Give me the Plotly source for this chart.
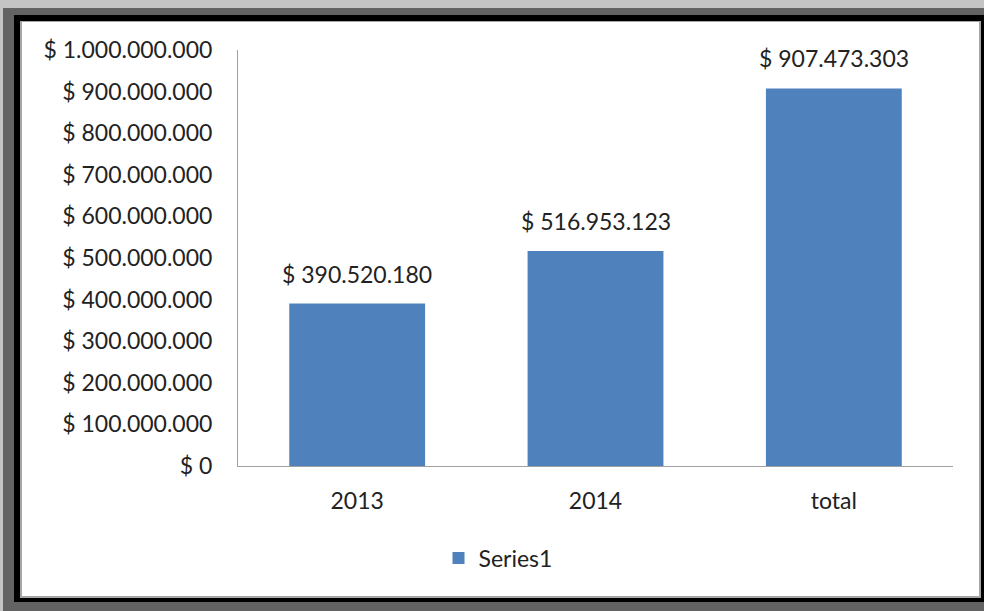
import plotly.graph_objects as go

categories = ["2013", "2014", "total"]
values = [390520180, 516953123, 907473303]
tick_values = [0, 100000000, 200000000, 300000000, 400000000, 500000000,
               600000000, 700000000, 800000000, 900000000, 1000000000]
series_name = "Series1"


def fmt(v):
    return "$ " + f"{v:,}".replace(",", ".")


W, H = 984, 611
L, R, T, B = 238, 31, 50, 145
PW, PH = W - L - R, H - T - B
FONT = "Lato, Noto Sans, sans-serif"
FS = 23


def px(x):
    return (x - L) / PW


def py(y):
    return (H - B - y) / PH


fig = go.Figure()
fig.add_trace(go.Bar(
    x=categories, y=values, name=series_name,
    marker=dict(color="#4F81BD", line=dict(width=0)),
    showlegend=True, hoverinfo="skip",
))
for i, v in enumerate(values):
    fig.add_annotation(x=i, y=v, text=fmt(v), showarrow=False,
                       yanchor="bottom", yshift=14,
                       font=dict(size=FS, color="#222222", family=FONT))

frame = [
    ((0, 0, W, H), "#c4c4c4"),
    ((3, 8, W, H), "#636363"),
    ((14, 15, W, 602), "#000000"),
    ((20, 21, 981, 598), "#a6a6a6"),
    ((22, 22, 979, 596), "#ffffff"),
]
shapes = []
for (x0, y0, x1, y1), c in frame:
    shapes.append(dict(type="rect", xref="paper", yref="paper",
                       x0=px(x0), x1=px(x1), y0=py(y1), y1=py(y0),
                       fillcolor=c, line=dict(width=0), layer="below"))

fig.update_layout(
    width=W, height=H,
    margin=dict(l=L, r=R, t=T, b=B),
    paper_bgcolor="#ffffff", plot_bgcolor="rgba(0,0,0,0)",
    font=dict(family=FONT, size=FS, color="#222222"),
    bargap=0.43,
    shapes=shapes,
    showlegend=True,
    legend=dict(orientation="h", x=px(498), xanchor="center", y=py(558),
                yanchor="middle", font=dict(size=FS), itemwidth=30),
    xaxis=dict(type="category", range=[-0.5, len(categories) - 0.5],
               showline=True, linecolor="#a0a0a0",
               linewidth=1, ticks="", showgrid=False, ticklabelstandoff=14),
    yaxis=dict(range=[0, 1000000000], tickvals=tick_values,
               ticktext=[fmt(v) for v in tick_values], showline=True,
               linecolor="#a0a0a0", linewidth=1, showgrid=False, ticks="",
               zeroline=False, ticklabelstandoff=20),
)

fig.write_html("out.html", config={"displayModeBar": False},
               post_script="document.body.style.margin='0';document.body.style.overflow='hidden';")
